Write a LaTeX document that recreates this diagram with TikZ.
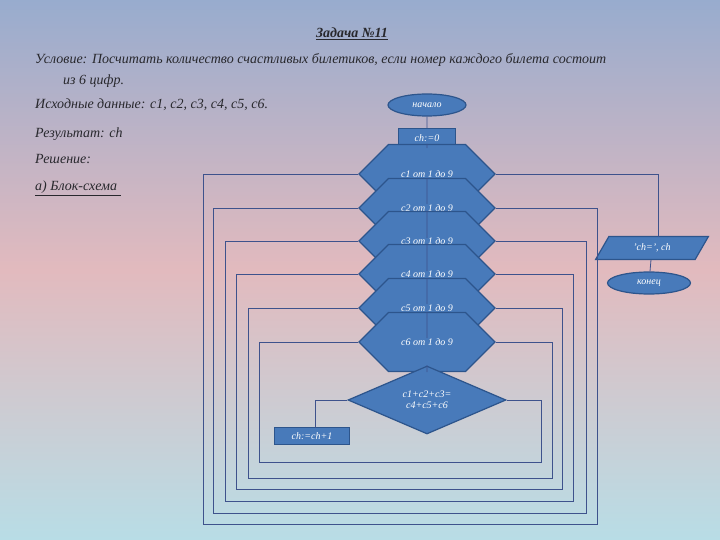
\documentclass[tikz,border=0pt]{standalone}
\usepackage{fontspec}
\setmainfont{Liberation Serif}
\usetikzlibrary{shapes.geometric,shapes.misc}
\definecolor{bgtop}{RGB}{152,172,206}
\definecolor{bgmid}{RGB}{226,186,190}
\definecolor{bgbot}{RGB}{184,221,230}
\definecolor{nfill}{RGB}{72,122,186}
\definecolor{nborder}{RGB}{45,85,140}
\definecolor{ln}{RGB}{62,82,140}
\definecolor{txt}{RGB}{40,40,45}
\begin{document}
\begin{tikzpicture}[x=1pt,y=-1pt,
  blk/.style={draw=nborder,line width=1.2pt,fill=nfill,text=white,font=\itshape\fontsize{10}{11}\selectfont,inner sep=1pt},
  hex/.style={blk,chamfered rectangle,chamfered rectangle xsep=1.5cm,minimum width=136pt,minimum height=24pt,chamfered rectangle sep=25pt},
  term/.style={blk,ellipse,minimum height=22pt},
  proc/.style={blk,rectangle,minimum height=19pt},
  io/.style={blk,trapezium,trapezium left angle=60,trapezium right angle=120,minimum height=23pt,minimum width=80pt},
  dec/.style={blk,diamond,aspect=2.3,minimum width=158pt,minimum height=68pt,align=center,inner sep=0pt},
  ln/.style={draw=ln,line width=0.8pt},
  t/.style={anchor=base west,text=txt,font=\itshape\fontsize{14}{16}\selectfont,inner sep=0pt}]
\useasboundingbox (0,0) rectangle (720,540);
\shade[top color=bgtop,bottom color=bgbot,middle color=bgmid] (0,0) rectangle (720,540);

\node[t,anchor=base,font=\bfseries\itshape\fontsize{14}{16}\selectfont] (title) at (352,38) {\underline{Задача №11}};
\node[t] (l1) at (35,64) {Условие: Посчитать количество счастливых билетиков, если номер каждого билета состоит};
\node[t] (l2) at (63,85) {из 6 цифр.};
\node[t] (l3) at (35,109) {Исходные данные: c1, c2, c3, c4, c5, c6.};
\node[t] (l4) at (35,138) {Результат: ch};
\node[t] (l5) at (35,164) {Решение:};
\node[t] (l6) at (35,191) {\underline{а) Блок-схема }};

% loop wires (drawn first)
\coordinate (L1) at (203,174);\coordinate (L2) at (213,208);\coordinate (L3) at (225,241);
\coordinate (L4) at (236,274);\coordinate (L5) at (248,308);\coordinate (L6) at (259,342);

\node[term,minimum width=78pt] (start) at (427,105) {начало};
\node[proc,minimum width=57pt] (init) at (427,138) {ch:=0};
\node[hex] (c1) at (427,174) {c1 от 1 до 9};
\node[hex] (c2) at (427,208) {c2 от 1 до 9};
\node[hex] (c3) at (427,241) {c3 от 1 до 9};
\node[hex] (c4) at (427,274) {c4 от 1 до 9};
\node[hex] (c5) at (427,308) {c5 от 1 до 9};
\node[hex] (c6) at (427,342) {c6 от 1 до 9};
\node[dec] (d) at (427,400) {c1+c2+c3=\\c4+c5+c6};
\node[proc,minimum width=75pt,minimum height=17pt] (inc) at (312,436) {ch:=ch+1};
\node[io] (out) at (652,248) {'ch=', ch};
\node[term,minimum width=83pt] (end) at (649,283) {конец};

\begin{scope}[on background layer/.try]
\end{scope}
\path[ln] (start) -- (init) (init) -- (c1) (c1)--(c2) (c2)--(c3) (c3)--(c4) (c4)--(c5) (c5)--(c6) (c6)--(d);
\path[ln] (c1.west) -- (203,174) -- (203,524) -- (597,524) -- (597,208) -- (c2.east);
\path[ln] (c2.west) -- (213,208) -- (213,513) -- (586,513) -- (586,241) -- (c3.east);
\path[ln] (c3.west) -- (225,241) -- (225,501) -- (573,501) -- (573,274) -- (c4.east);
\path[ln] (c4.west) -- (236,274) -- (236,489) -- (562,489) -- (562,308) -- (c5.east);
\path[ln] (c5.west) -- (248,308) -- (248,478) -- (552,478) -- (552,342) -- (c6.east);
\path[ln] (c6.west) -- (259,342) -- (259,462) -- (541,462) -- (541,400) -- (d.east);
\path[ln] (d.west) -- (315,400) -- (315,427.5);
\path[ln] (c1.east) -- (658,174) -- (658,236.5);
\path[ln] (out) -- (end);
\end{tikzpicture}
\end{document}
